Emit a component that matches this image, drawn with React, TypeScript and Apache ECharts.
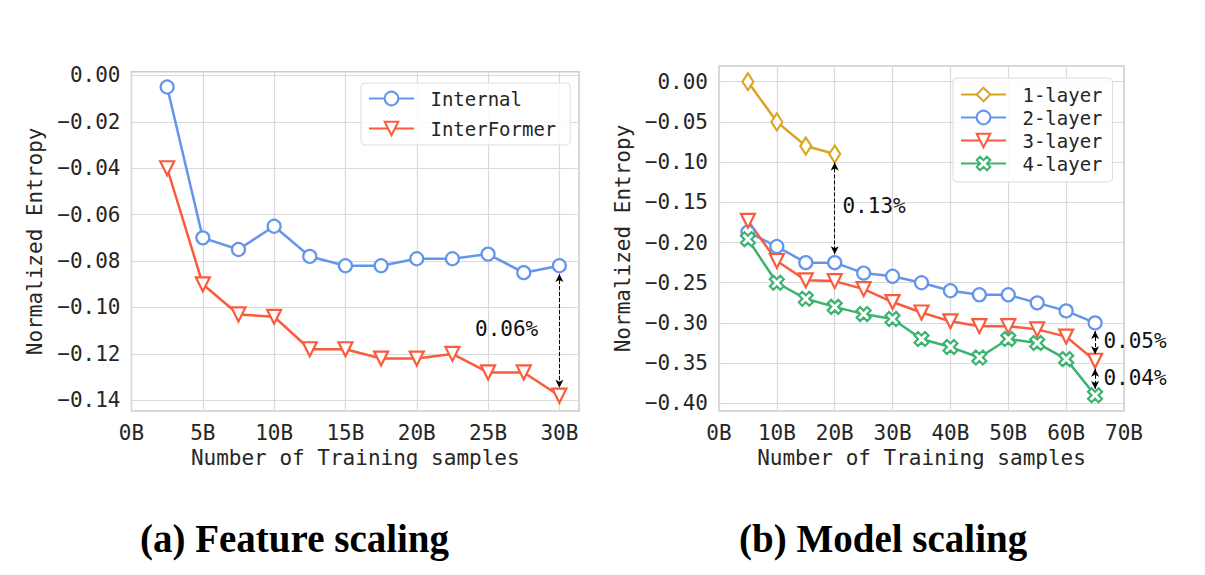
import React, { useEffect, useRef } from "react";
import * as echarts from "echarts";

// ---------- data ----------
const featureX = [2.5, 5, 7.5, 10, 12.5, 15, 17.5, 20, 22.5, 25, 27.5, 30];
const internalNE = [-0.005, -0.07, -0.075, -0.065, -0.078, -0.082, -0.082, -0.079, -0.079, -0.077, -0.085, -0.082];
const interFormerNE = [-0.04, -0.09, -0.103, -0.104, -0.118, -0.118, -0.122, -0.122, -0.12, -0.128, -0.128, -0.138];

const modelX = [5, 10, 15, 20, 25, 30, 35, 40, 45, 50, 55, 60, 65];
const layer1 = [0.0, -0.05, -0.08, -0.09];
const layer2 = [-0.187, -0.205, -0.225, -0.225, -0.238, -0.242, -0.25, -0.26, -0.265, -0.265, -0.275, -0.285, -0.3];
const layer3 = [-0.173, -0.223, -0.247, -0.248, -0.258, -0.274, -0.287, -0.298, -0.304, -0.304, -0.308, -0.317, -0.347];
const layer4 = [-0.196, -0.25, -0.27, -0.28, -0.289, -0.295, -0.32, -0.33, -0.343, -0.32, -0.325, -0.345, -0.39];

const featureXTicks = [0, 5, 10, 15, 20, 25, 30];
const featureYTicks = [0, -0.02, -0.04, -0.06, -0.08, -0.1, -0.12, -0.14];
const modelYTicks = [0, -0.05, -0.1, -0.15, -0.2, -0.25, -0.3, -0.35, -0.4];

// annotations: arrows [x, yStart, yEnd] and labels [x, y, text]
const featureArrows = [[30, -0.0856, -0.1346]];
const featureNotes: [number, number, string][] = [[26.3, -0.1092, "0.06%"]];
const modelArrows = [
  [20, -0.1004, -0.2146],
  [65, -0.3101, -0.339],
  [65, -0.357, -0.382],
];
const modelNotes: [number, number, string][] = [
  [26.8, -0.1548, "0.13%"],
  [71.9, -0.323, "0.05%"],
  [71.9, -0.368, "0.04%"],
];

const panelTitles = ["(a) Feature scaling", "(b) Model scaling"];

// ---------- styles ----------
const MONO = "DejaVu Sans Mono";
const C_BLUE = "#6495ED";
const C_RED = "#FA5B3D";
const C_GOLD = "#DAA520";
const C_GREEN = "#3CB371";
const TXT = "#262626";

const TRI_DOWN = "path://M-1,-1 L1,-1 L0,1 Z";
const THIN_DIAMOND = "path://M0,-1 L0.6,0 L0,1 L-0.6,0 Z";
const X_FILLED =
  "path://M-1,-2 L0,-1 L1,-2 L2,-1 L1,0 L2,1 L1,2 L0,1 L-1,2 L-2,1 L-1,0 L-2,-1 Z";

const fmtY = (v: number) => {
  const s = Math.abs(v).toFixed(2);
  return v < -1e-9 ? "\u2212" + s : s;
};

function lineSeries(name: string, xs: number[], ys: number[], color: string, symbol: string, size: any, idx: number) {
  return {
    type: "line",
    name,
    xAxisIndex: idx,
    yAxisIndex: idx,
    data: xs.slice(0, ys.length).map((x, i) => [x, ys[i]]),
    symbol,
    symbolSize: size,
    showAllSymbol: true,
    lineStyle: { color, width: 2.5 },
    itemStyle: { color: "#ffffff", borderColor: color, borderWidth: 2.2 },
    emphasis: { disabled: true },
    z: 3,
  };
}

function noteSeries(notes: [number, number, string][], arrows: number[][], idx: number) {
  return {
    type: "scatter",
    name: "notes" + idx,
    xAxisIndex: idx,
    yAxisIndex: idx,
    clip: false,
    silent: true,
    symbolSize: 1,
    itemStyle: { color: "rgba(0,0,0,0)", opacity: 1 },
    data: notes.map((n) => ({ value: [n[0], n[1]], label: { formatter: n[2] } })),
    label: {
      show: true,
      position: "inside",
      color: "#111111",
      opacity: 1,
      textBorderWidth: 0,
      fontFamily: MONO,
      fontSize: 21,
    },
    markLine: {
      silent: true,
      symbol: ["arrow", "arrow"],
      symbolSize: [6, 8],
      label: { show: false },
      lineStyle: { type: [4, 2], color: "#000", width: 1 },
      emphasis: { disabled: true },
      data: arrows.map((a) => [{ coord: [a[0], a[1]] }, { coord: [a[0], a[2]] }]),
    },
    z: 5,
  };
}

const axisCommon = {
  axisLine: { show: false },
  axisTick: { show: false },
  splitLine: { show: true, lineStyle: { color: "#dadada", width: 1.2 } },
  axisLabel: { color: TXT, fontFamily: MONO, fontSize: 21 },
  nameTextStyle: { color: TXT, fontFamily: MONO, fontSize: 21 },
};

export default function App() {
  const ref = useRef<HTMLDivElement>(null);
  useEffect(() => {
    document.body.style.margin = "0";
    const chart = echarts.init(ref.current!, null, { renderer: "svg" });
    const option: any = {
      animation: false,
      backgroundColor: "#ffffff",
      grid: [
        { left: 131.5, top: 71.7, width: 447.5, height: 339.3, show: true, borderColor: "#cccccc", borderWidth: 1.5, backgroundColor: "transparent" },
        { left: 719, top: 66, width: 405, height: 345, show: true, borderColor: "#cccccc", borderWidth: 1.5, backgroundColor: "transparent" },
      ],
      xAxis: [
        {
          ...axisCommon,
          type: "value",
          gridIndex: 0,
          min: 0,
          max: 31.375,
          axisTick: { show: false, customValues: featureXTicks },
          axisLabel: { ...axisCommon.axisLabel, margin: 11, customValues: featureXTicks, formatter: (v: number) => v + "B" },
          name: "Number of Training samples",
          nameLocation: "middle",
          nameGap: 36,
        },
        {
          ...axisCommon,
          type: "value",
          gridIndex: 1,
          min: 0,
          max: 70,
          interval: 10,
          axisLabel: { ...axisCommon.axisLabel, margin: 11, formatter: (v: number) => v + "B" },
          name: "Number of Training samples",
          nameLocation: "middle",
          nameGap: 36,
        },
      ],
      yAxis: [
        {
          ...axisCommon,
          type: "value",
          gridIndex: 0,
          min: -0.1446,
          max: 0.0016,
          axisTick: { show: false, customValues: featureYTicks },
          axisLabel: { ...axisCommon.axisLabel, margin: 11, customValues: featureYTicks, formatter: fmtY },
          name: "Normalized Entropy",
          nameLocation: "middle",
          nameGap: 86,
        },
        {
          ...axisCommon,
          type: "value",
          gridIndex: 1,
          min: -0.4095,
          max: 0.0195,
          axisTick: { show: false, customValues: modelYTicks },
          axisLabel: { ...axisCommon.axisLabel, margin: 11, customValues: modelYTicks, formatter: fmtY },
          name: "Normalized Entropy",
          nameLocation: "middle",
          nameGap: 86,
        },
      ],
      legend: [
        {
          data: ["Internal", "InterFormer"],
          orient: "vertical",
          left: 361,
          top: 83,
          itemWidth: 45,
          itemHeight: 17,
          itemGap: 11,
          padding: [6, 14, 7, 7],
          backgroundColor: "rgba(255,255,255,0.85)",
          borderColor: "#dddddd",
          borderWidth: 1,
          borderRadius: 4,
          formatter: " {name}",
          textStyle: { color: TXT, fontFamily: MONO, fontSize: 19 },
        },
        {
          data: ["1-layer", "2-layer", "3-layer", "4-layer"],
          orient: "vertical",
          left: 953,
          top: 78,
          itemWidth: 45,
          itemHeight: 17,
          itemGap: 4,
          padding: [7, 10, 9, 7],
          backgroundColor: "rgba(255,255,255,0.85)",
          borderColor: "#dddddd",
          borderWidth: 1,
          borderRadius: 4,
          formatter: " {name}",
          textStyle: { color: TXT, fontFamily: MONO, fontSize: 19 },
        },
      ],
      graphic: [
        {
          type: "text",
          left: 301 - 161,
          top: 519,
          style: { text: panelTitles[0], font: "bold 39px 'Liberation Serif'", fill: "#000" },
        },
        {
          type: "text",
          left: 891 - 152,
          top: 519,
          style: { text: panelTitles[1], font: "bold 39px 'Liberation Serif'", fill: "#000" },
        },
      ],
      series: [
        lineSeries("Internal", featureX, internalNE, C_BLUE, "circle", 13, 0),
        lineSeries("InterFormer", featureX, interFormerNE, C_RED, TRI_DOWN, 14, 0),
        noteSeries(featureNotes, featureArrows, 0),
        lineSeries("1-layer", modelX, layer1, C_GOLD, THIN_DIAMOND, [11, 17], 1),
        lineSeries("2-layer", modelX, layer2, C_BLUE, "circle", 13, 1),
        lineSeries("3-layer", modelX, layer3, C_RED, TRI_DOWN, 14, 1),
        lineSeries("4-layer", modelX, layer4, C_GREEN, X_FILLED, 14, 1),
        noteSeries(modelNotes, modelArrows, 1),
      ],
    };
    chart.setOption(option);
    return () => chart.dispose();
  }, []);
  return <div ref={ref} style={{ width: 1205, height: 575 }} />;
}
